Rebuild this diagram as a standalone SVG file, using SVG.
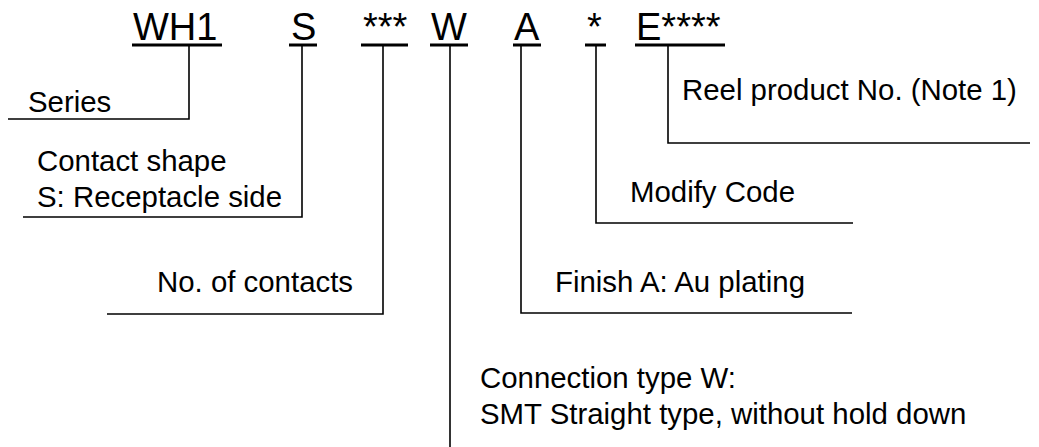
<svg xmlns="http://www.w3.org/2000/svg" width="1039" height="447" viewBox="0 0 1039 447">
<style>
.code{font-family:"Liberation Sans",Arial,sans-serif;font-size:38px;fill:#000}
.lbl{font-family:"Liberation Sans",Arial,sans-serif;font-size:29.4px;fill:#000}
.ul{stroke:#000;stroke-width:3;fill:none}
.cn{stroke:#000;stroke-width:1.6;fill:none}
</style>
<rect width="1039" height="447" fill="#fff"/>
<g id="code-WH1"><text class="code" x="133" y="40">WH1</text><line class="ul" x1="132" y1="45" x2="222" y2="45"/></g>
<g id="code-S"><text class="code" x="291" y="40">S</text><line class="ul" x1="289" y1="45" x2="317" y2="45"/></g>
<g id="code-contacts"><text class="code" x="363" y="40">***</text><line class="ul" x1="361" y1="45" x2="408" y2="45"/></g>
<g id="code-W"><text class="code" x="431" y="40">W</text><line class="ul" x1="430" y1="45" x2="468" y2="45"/></g>
<g id="code-A"><text class="code" x="514" y="40">A</text><line class="ul" x1="513" y1="45" x2="541" y2="45"/></g>
<g id="code-mod"><text class="code" x="587" y="40">*</text><line class="ul" x1="585" y1="45" x2="606" y2="45"/></g>
<g id="code-E"><text class="code" x="636" y="40">E****</text><line class="ul" x1="635" y1="45" x2="725" y2="45"/></g>
<g id="label-series"><text class="lbl" x="28" y="112">Series</text></g>
<g id="label-contact"><text class="lbl" x="37" y="171">Contact shape</text><text class="lbl" x="37" y="207">S: Receptacle side</text></g>
<g id="label-contacts"><text class="lbl" x="157" y="292">No. of contacts</text></g>
<g id="label-finish"><text class="lbl" x="555" y="292">Finish A: Au plating</text></g>
<g id="label-modify"><text class="lbl" x="630" y="202">Modify Code</text></g>
<g id="label-reel"><text class="lbl" x="682" y="100">Reel product No. (Note 1)</text></g>
<g id="label-connection"><text class="lbl" x="480" y="388">Connection type W:</text><text class="lbl" x="480" y="424">SMT Straight type, without hold down</text></g>
<g id="connectors">
<path class="cn" d="M189 46V119H8"/>
<path class="cn" d="M302 46V217H23"/>
<path class="cn" d="M383 46V314H107"/>
<path class="cn" d="M450 46V447"/>
<path class="cn" d="M521 46V313H852"/>
<path class="cn" d="M596 46V223H853"/>
<path class="cn" d="M668 46V143H1030"/>
</g>
</svg>
